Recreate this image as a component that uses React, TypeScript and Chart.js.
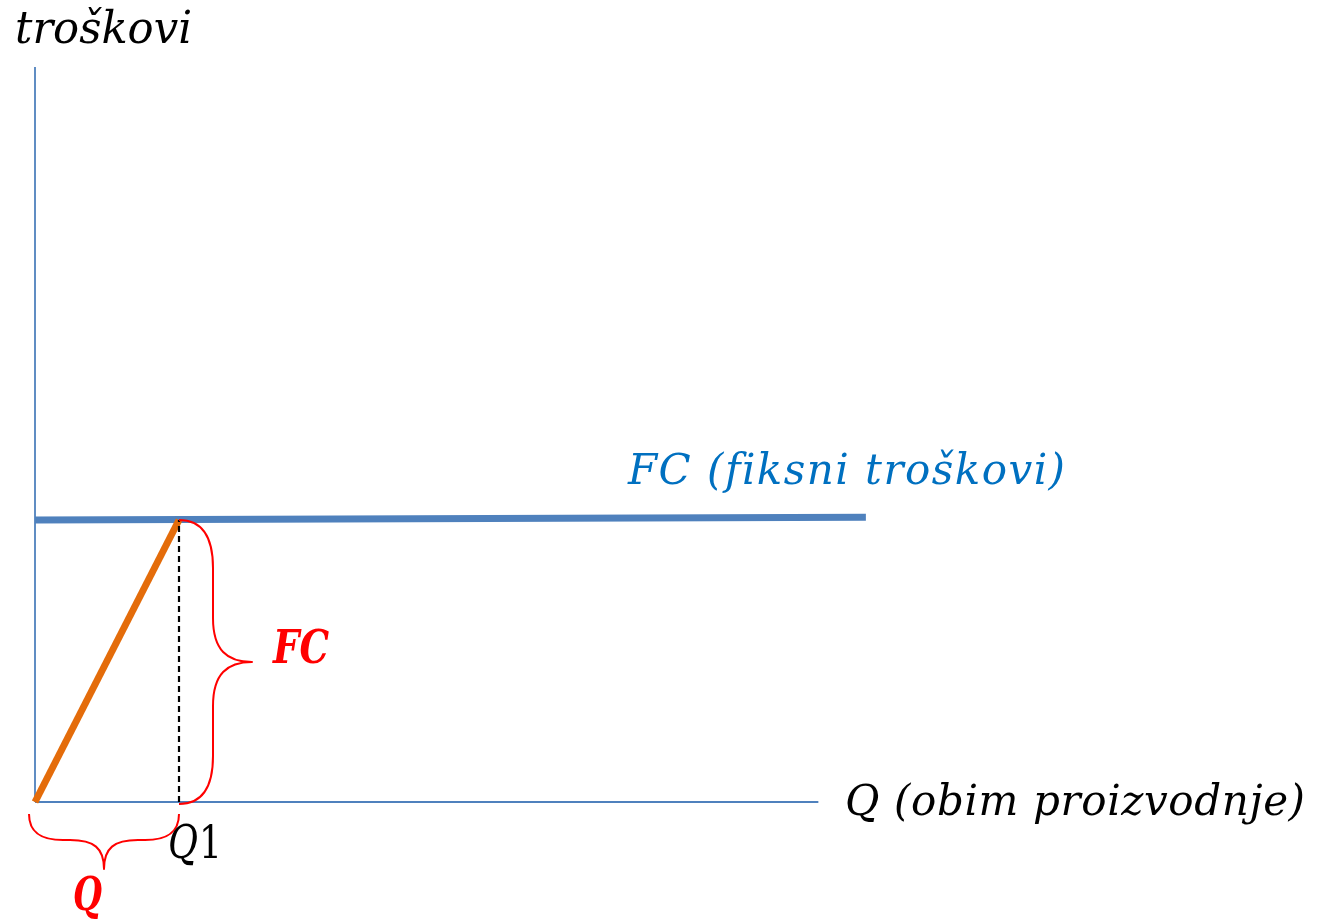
import React, { useEffect, useRef } from "react";
import { Chart, registerables } from "chart.js";

Chart.register(...registerables);

// ---- data (Q = output volume, cost units) ----
const Q1 = 10;
const FC = 100;
const xAxisQ = [0, 54.4];
const xAxisCost = [0, 0];
const yAxisQ = [0, 0];
const yAxisCost = [0, 260.6];
const fcLineQ = [0, 57.7];
const fcLineCost = [100, 101];
const rampQ = [0, Q1];
const rampCost = [0, FC];
const dashQ = [Q1, Q1];
const dashCost = [0, FC];

const yAxisLabel = "troškovi";
const xAxisLabel = "Q (obim proizvodnje)";
const fcLabel = "FC (fiksni troškovi)";
const q1LabelLetter = "Q";
const q1LabelDigit = "1";
const braceFcLabel = "FC";
const braceQLabel = "Q";

const pts = (xs: number[], ys: number[]) => xs.map((x, i) => ({ x, y: ys[i] }));

const FONT = '"DejaVu Serif"';

function drawFit(
  ctx: CanvasRenderingContext2D,
  text: string,
  x: number,
  y: number,
  width: number,
  size: number,
  weight: string,
  color: string,
  style = "italic"
) {
  ctx.save();
  ctx.font = `${style} ${weight} ${size}px ${FONT}`;
  ctx.fillStyle = color;
  ctx.textBaseline = "alphabetic";
  ctx.textAlign = "left";
  const chars = Array.from(text);
  const w = ctx.measureText(text).width;
  let sx = 1;
  let spacing = 0;
  if (w < width && chars.length > 1) {
    spacing = (width - w) / (chars.length - 1);
  } else {
    sx = width / w;
  }
  ctx.translate(x, y);
  ctx.scale(sx, 1);
  let cx = 0;
  for (const ch of chars) {
    ctx.fillText(ch, cx, 0);
    cx += ctx.measureText(ch).width + spacing;
  }
  ctx.restore();
}

const decorPlugin = {
  id: "decor",
  afterDatasetsDraw(chart: any) {
    const ctx: CanvasRenderingContext2D = chart.ctx;
    const xs = chart.scales.x;
    const ys = chart.scales.y;
    const x0 = xs.getPixelForValue(0);
    const xq = xs.getPixelForValue(Q1);
    const y0 = ys.getPixelForValue(0);
    const yf = ys.getPixelForValue(FC);

    ctx.save();
    ctx.strokeStyle = "#FF0000";
    ctx.lineWidth = 2;
    ctx.lineJoin = "round";
    // vertical brace (FC)
    const bx = xq;
    const yTop = yf;
    const yBot = y0 + 2;
    const yMid = (yTop + yBot) / 2;
    ctx.beginPath();
    ctx.moveTo(bx, yTop);
    ctx.bezierCurveTo(bx + 26, yTop, bx + 34, yTop + 22, bx + 34, yTop + 48);
    ctx.lineTo(bx + 34, yMid - 44);
    ctx.bezierCurveTo(bx + 34, yMid - 12, bx + 48, yMid, bx + 73, yMid);
    ctx.bezierCurveTo(bx + 48, yMid, bx + 34, yMid + 12, bx + 34, yMid + 44);
    ctx.lineTo(bx + 34, yBot - 48);
    ctx.bezierCurveTo(bx + 34, yBot - 22, bx + 26, yBot, bx, yBot);
    ctx.stroke();

    // horizontal brace (Q)
    const lx = x0 - 6;
    const rx = xq;
    const top = y0 + 12;
    const mid = (lx + rx) / 2;
    const flat = top + 26;
    const tip = top + 55;
    ctx.beginPath();
    ctx.moveTo(lx, top);
    ctx.bezierCurveTo(lx, flat - 6, lx + 14, flat, lx + 34, flat);
    ctx.lineTo(mid - 34, flat);
    ctx.bezierCurveTo(mid - 10, flat, mid, flat + 8, mid, tip);
    ctx.bezierCurveTo(mid, flat + 8, mid + 10, flat, mid + 34, flat);
    ctx.lineTo(rx - 34, flat);
    ctx.bezierCurveTo(rx - 14, flat, rx, flat - 6, rx, top);
    ctx.stroke();
    ctx.restore();

    drawFit(ctx, yAxisLabel, 15, 43, 177, 44, "normal", "#000000");
    drawFit(ctx, fcLabel, 628, 484, 436, 42, "normal", "#0070C0");
    drawFit(ctx, xAxisLabel, 845, 815, 460, 42, "normal", "#000000");
    drawFit(ctx, q1LabelLetter, 168, 858, 30, 46, "normal", "#000000");
    drawFit(ctx, q1LabelDigit, 199, 858, 23, 44, "normal", "#000000", "normal");
    drawFit(ctx, braceFcLabel, 273, 663, 56, 46, "bold", "#FF0000");
    drawFit(ctx, braceQLabel, 73, 910, 29, 46, "bold", "#FF0000");
  },
};

export default function App() {
  const ref = useRef<HTMLCanvasElement | null>(null);
  useEffect(() => {
    if (!ref.current) return;
    const W = 1323;
    const H = 922;
    const pxPerQ = 14.4;
    const pxPerCost = 2.82;
    const xMin = -35 / pxPerQ;
    const xMax = xMin + W / pxPerQ;
    const yMax = 802 / pxPerCost;
    const yMin = yMax - H / pxPerCost;
    const line = (data: any, color: string, width: number, order: number, dash: number[] = []) => ({
      data,
      showLine: true,
      borderColor: color,
      backgroundColor: color,
      borderWidth: width,
      borderDash: dash,
      pointRadius: 0,
      fill: false,
      tension: 0,
      order,
      borderCapStyle: "butt",
    });
    const chart = new Chart(ref.current, {
      type: "scatter",
      data: {
        datasets: [
          line(pts(xAxisQ, xAxisCost), "#4F81BD", 1.8, 5),
          line(pts(yAxisQ, yAxisCost), "#4F81BD", 1.8, 4),
          line(pts(fcLineQ, fcLineCost), "#4F81BD", 7, 3),
          line(pts(rampQ, rampCost), "#E46C0A", 7, 2),
          line(pts(dashQ, dashCost), "#000000", 2.2, 1, [6, 4]),
        ] as any,
      },
      options: {
        responsive: false,
        animation: false,
        devicePixelRatio: 1,
        layout: { padding: 0 },
        plugins: { legend: { display: false }, tooltip: { enabled: false } },
        scales: {
          x: { type: "linear", display: false, min: xMin, max: xMax },
          y: { type: "linear", display: false, min: yMin, max: yMax },
        },
      },
      plugins: [decorPlugin],
    });
    return () => chart.destroy();
  }, []);
  return (
    <div style={{ position: "absolute", left: 0, top: 0, width: 1323, height: 922, background: "#fff" }}>
      <canvas ref={ref} width={1323} height={922} style={{ display: "block" }} />
    </div>
  );
}
